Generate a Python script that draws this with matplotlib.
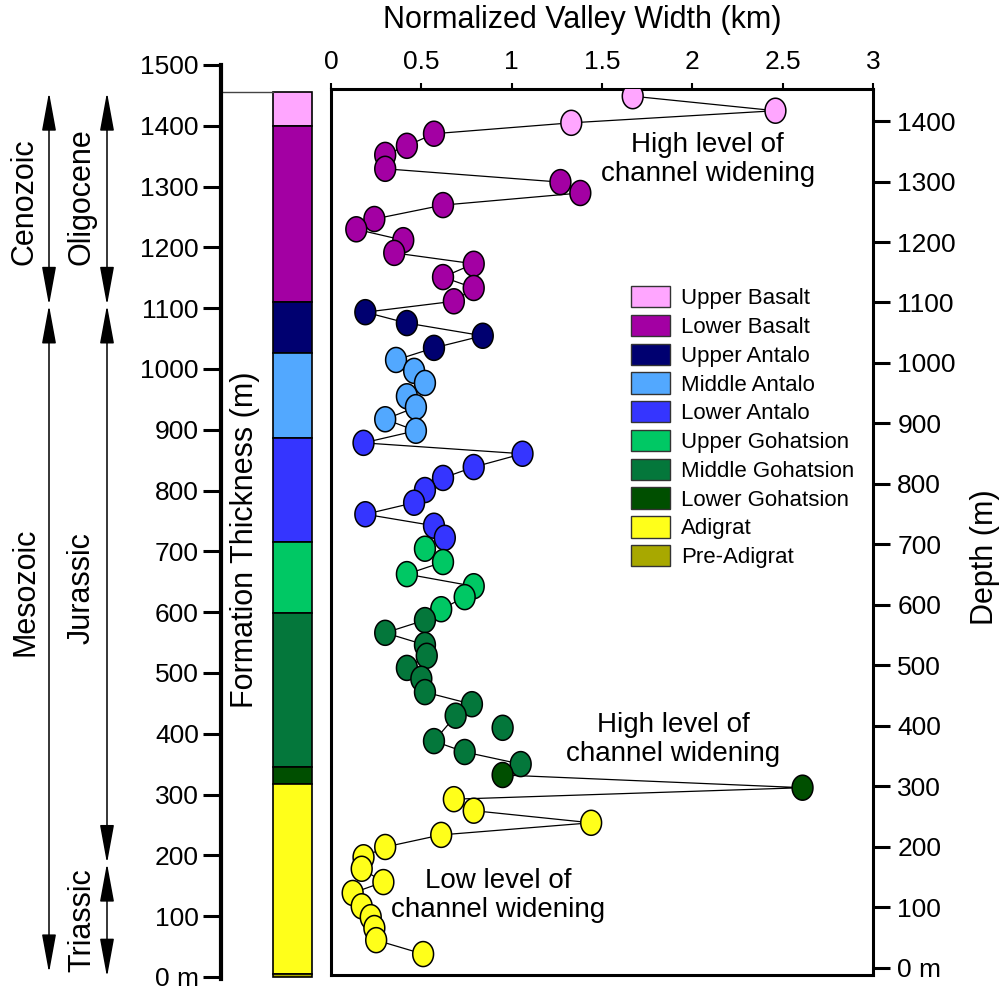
import numpy as np
import matplotlib
matplotlib.use('Agg')
import matplotlib.pyplot as plt
from matplotlib.path import Path
from matplotlib.patches import Patch

plt.rcParams['font.family'] = ['Liberation Sans', 'DejaVu Sans']

# ------------------------------------------------------------
# formations (column on the left + legend)
# ------------------------------------------------------------
formations = ['Upper Basalt', 'Lower Basalt', 'Upper Antalo', 'Middle Antalo',
              'Lower Antalo', 'Upper Gohatsion', 'Middle Gohatsion',
              'Lower Gohatsion', 'Adigrat', 'Pre-Adigrat']
colors = ['#ffa6ff', '#a300a3', '#000070', '#52a8ff', '#3535ff',
          '#00c864', '#04773b', '#004f00', '#ffff1a', '#a8a800']
form_top = [1455, 1400, 1110, 1026, 886, 715, 598, 346, 317, 5]
form_bot = [1400, 1110, 1026, 886, 715, 598, 346, 317, 5, 0]

# ------------------------------------------------------------
# valley width vs depth (top -> bottom)
# ------------------------------------------------------------
width_km = [1.67, 2.46, 1.33,
            0.57, 0.42, 0.30, 0.30, 1.27, 1.38, 0.62, 0.24, 0.14, 0.40, 0.35, 0.79, 0.62, 0.79, 0.68,
            0.19, 0.42, 0.84, 0.57,
            0.36, 0.46, 0.52, 0.42, 0.47, 0.30, 0.47,
            0.18, 1.06, 0.79, 0.62, 0.52, 0.46, 0.19, 0.57, 0.63,
            0.52, 0.62, 0.42, 0.79, 0.74, 0.61,
            0.52, 0.30, 0.52, 0.53, 0.42, 0.50, 0.52, 0.78, 0.69, 0.95, 0.57, 0.74, 1.05,
            0.95, 2.61,
            0.68, 0.79, 1.44, 0.61, 0.30, 0.18, 0.17, 0.29, 0.12, 0.17, 0.22, 0.24, 0.25, 0.51]
depth_m = [1441, 1417, 1397,
           1379, 1359, 1344, 1321, 1299, 1281, 1261, 1238, 1221, 1203, 1182, 1164, 1142, 1124, 1102,
           1084, 1066, 1045, 1025,
           1005, 987, 967, 945, 927, 907, 888,
           868, 850, 828, 810, 790, 769, 750, 731, 711,
           693, 671, 651, 631, 613, 593,
           575, 554, 534, 516, 496, 478, 456, 436, 417, 397, 375, 357, 337,
           319, 298,
           279, 260, 240, 220, 200, 183, 164, 142, 124, 102, 84, 66, 46, 23]
unit = [0] * 3 + [1] * 15 + [2] * 4 + [3] * 7 + [4] * 9 + [5] * 6 + [6] * 13 + [7] * 2 + [8] * 14
not_joined = [53]   # point drawn without connecting line

# eras / periods (left side arrows), in metres of formation thickness
eras = [('Cenozoic', 1455, 1105, 1275), ('Mesozoic', 1105, 7, 633)]
periods = [('Oligocene', 1455, 1105, 1283), ('Jurassic', 1105, 187, 640),
           ('Triassic', 187, 0, 94)]

notes = ['High level of\nchannel widening', 'High level of\nchannel widening',
         'Low level of\nchannel widening']
note_x = [2.086, 1.893, 0.924]
note_y = [1336, 377, 119]

# ------------------------------------------------------------
fig = plt.figure(figsize=(10, 9.91), dpi=100)

# main plot
ax = fig.add_axes([0.331, 1 - 975 / 991, 0.542, (975 - 89) / 991])
ax.set_xlim(0, 3)
ax.set_ylim(-11.6, 1452.9)

w = np.array(width_km)
d = np.array(depth_m)
joined = np.ones(len(w), dtype=bool)
joined[not_joined] = False
ax.plot(w[joined], d[joined], color='black', lw=0.9, zorder=2)

t = np.linspace(0, 2 * np.pi, 64)
ellipse = Path(np.column_stack([np.cos(t), 1.2 * np.sin(t)]), closed=True)
ax.scatter(w, d, marker=ellipse, s=18 ** 2, c=[colors[u] for u in unit],
           edgecolors='black', linewidths=1.1, zorder=3)

for txt, x, y in zip(notes, note_x, note_y):
    ax.text(x, y, txt, ha='center', va='center', fontsize=20, linespacing=1.15)

ax.xaxis.tick_top()
ax.yaxis.tick_right()
ax.set_xticks([0, 0.5, 1, 1.5, 2, 2.5, 3])
ax.set_xticklabels(['0', '0.5', '1', '1.5', '2', '2.5', '3'])
ax.set_yticks(np.arange(0, 1401, 100))
ax.set_yticklabels(['0 m'] + [str(v) for v in range(100, 1401, 100)])
ax.tick_params(axis='x', direction='out', length=4, width=1.5, pad=7, labelsize=19)
ax.tick_params(axis='y', direction='out', length=12.5, width=2.2, pad=5, labelsize=19)
for s in ax.spines.values():
    s.set_linewidth(2.2)

ax.legend(handles=[Patch(facecolor=c, edgecolor='#333333', lw=1, label=n)
                   for n, c in zip(formations, colors)],
          loc='upper left', bbox_to_anchor=(0.631, 1 - 286 / 991),
          bbox_transform=fig.transFigure, frameon=False, fontsize=16,
          handlelength=1.75, handleheight=1.1, labelspacing=0.25,
          handletextpad=0.5, borderpad=0, borderaxespad=0)

# formation column
axL = fig.add_axes([0.221, 1 - 979 / 991, 0.109, (979 - 65) / 991])
axL.patch.set_alpha(0)
axL.set_xlim(0, 109)
axL.set_ylim(-3.3, 1500)
axL.bar(71.5, np.array(form_top) - np.array(form_bot), bottom=form_bot, width=39,
        color=colors, edgecolor='black', lw=1.2)
axL.plot([0, 52], [form_top[0], form_top[0]], color='#444444', lw=1)
for s in ['top', 'right', 'bottom']:
    axL.spines[s].set_visible(False)
axL.spines['left'].set_linewidth(3)
axL.set_xticks([])
axL.set_yticks(np.arange(0, 1501, 100))
axL.set_yticklabels(['0 m'] + [str(v) for v in range(100, 1501, 100)])
axL.tick_params(axis='y', direction='out', length=13, width=2.2, pad=3, labelsize=19)

arrow = dict(arrowstyle='<|-|>,head_length=1.2,head_width=0.22', color='black',
             lw=1.1, shrinkA=0, shrinkB=0, mutation_scale=20)
for (name, top, bot, ty), xa, xt in [(e, 0.049, 0.025) for e in eras] + \
                                     [(p, 0.107, 0.082) for p in periods]:
    axL.annotate('', xy=(xa, bot), xytext=(xa, top),
                 xycoords=('figure fraction', 'data'),
                 textcoords=('figure fraction', 'data'), arrowprops=arrow)
    axL.annotate(name, xy=(xt, ty), xycoords=('figure fraction', 'data'),
                 rotation=90, ha='center', va='center', fontsize=22)

fig.text(0.245, 1 - 540 / 991, 'Formation Thickness (m)', rotation=90,
         ha='center', va='center', fontsize=22)
fig.text(0.985, 1 - 557 / 991, 'Depth (m)', rotation=90,
         ha='center', va='center', fontsize=22)
fig.text(0.582, 1 - 20 / 991, 'Normalized Valley Width (km)',
         ha='center', va='center', fontsize=22)

fig.savefig('out.png', dpi=100)
